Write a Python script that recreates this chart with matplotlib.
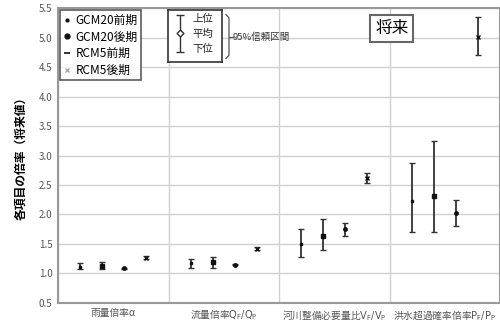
import numpy as np
import matplotlib
matplotlib.use("Agg")
from matplotlib import pyplot as plt
from matplotlib.lines import Line2D

plt.rcParams['font.family'] = ['Noto Sans CJK JP', 'DejaVu Sans']
plt.rcParams['mathtext.fontset'] = 'dejavusans'

#data
categories = ["雨量倍率α", r"流量倍率$\mathrm{Q_F/Q_P}$", r"河川整備必要量比$\mathrm{V_F/V_P}$", r"洪水超過確率倍率$\mathrm{P_F/P_P}$"]
series = ["GCM20前期", "GCM20後期", "RCM5前期", "RCM5後期"]

gcm20_early_mean = [1.11, 1.18, 1.50, 2.22]
gcm20_early_upper = [1.17, 1.25, 1.76, 2.88]
gcm20_early_lower = [1.07, 1.10, 1.28, 1.71]

gcm20_late_mean = [1.12, 1.19, 1.63, 2.32]
gcm20_late_upper = [1.19, 1.28, 1.92, 3.24]
gcm20_late_lower = [1.07, 1.10, 1.39, 1.71]

rcm5_early_mean = [1.09, 1.15, 1.75, 2.02]
rcm5_early_upper = [1.10, 1.16, 1.85, 2.25]
rcm5_early_lower = [1.08, 1.14, 1.64, 1.81]

rcm5_late_mean = [1.27, 1.42, 2.62, 5.01]
rcm5_late_upper = [1.29, 1.44, 2.70, 5.35]
rcm5_late_lower = [1.25, 1.40, 2.54, 4.70]

means = [gcm20_early_mean, gcm20_late_mean, rcm5_early_mean, rcm5_late_mean]
uppers = [gcm20_early_upper, gcm20_late_upper, rcm5_early_upper, rcm5_late_upper]
lowers = [gcm20_early_lower, gcm20_late_lower, rcm5_early_lower, rcm5_late_lower]
markers = ['s', 's', 'o', 'x']
msizes = [2, 2.5, 2.5, 3]
offsets = [0.2, 0.4, 0.6, 0.8]

fig = plt.figure(figsize=(5, 3.25), dpi=100)
ax = fig.add_axes([0.116, 0.068, 0.884, 0.907])

dark = '#333333'
base = np.arange(len(categories))
for k in range(len(series)):
	m = np.array(means[k])
	err = [m - np.array(lowers[k]), np.array(uppers[k]) - m]
	ax.errorbar(base + offsets[k], m, yerr=err, fmt=markers[k], ms=msizes[k],
		color='#111111', ecolor=dark, elinewidth=1.3, capsize=2, capthick=1, mew=1)

ax.set_xlim(0, 4)
ax.set_ylim(0.5, 5.5)
ax.set_yticks(np.arange(0.5, 5.51, 0.5))
ax.set_xticks(base + 0.5)
ax.set_xticklabels(categories)
ax.set_xticks(np.arange(0, 5), minor=True)
ax.grid(axis='y', color='#d0d0d0', lw=1)
ax.grid(axis='x', which='minor', color='#d0d0d0', lw=1)
ax.tick_params(which='both', length=0, labelsize=7, labelcolor='#555555', pad=4)
ax.set_ylabel("各項目の倍率（将来値）", fontsize=8.5, fontweight='bold', labelpad=8)
for s in ['left', 'top', 'bottom', 'right']:
	ax.spines[s].set_color('#999999')
	ax.spines[s].set_linewidth(1.5)

#legend for the four runs
handles = [
	Line2D([], [], ls='none', marker='.', ms=4, color='#111111'),
	Line2D([], [], ls='none', marker='o', ms=3.5, color='#111111'),
	Line2D([], [], ls='none', marker='_', ms=5, mew=1.2, color='#111111'),
	Line2D([], [], ls='none', marker='x', ms=3.5, color='#aaaaaa'),
]
leg = ax.legend(handles, series, loc='upper left', fontsize=8.5, frameon=True, fancybox=False,
	edgecolor=dark, borderaxespad=0.2, handlelength=0.6, handletextpad=0.4,
	labelspacing=0.3, borderpad=0.3)
leg.get_frame().set_linewidth(1.2)

#key for the interval symbol
kax = fig.add_axes([0.336, 0.809, 0.108, 0.16])
kax.set_xlim(0, 1)
kax.set_ylim(0, 1)
kax.set_xticks([])
kax.set_yticks([])
for s in kax.spines.values():
	s.set_color(dark)
	s.set_linewidth(1.2)
kax.errorbar([0.22], [0.55], yerr=[[0.35], [0.35]], fmt='D', ms=3.5, mfc='white', mec=dark,
	ecolor=dark, elinewidth=1, capsize=3)
for txt, yy in zip(["上位", "平均", "下位"], [0.82, 0.55, 0.25]):
	kax.text(0.64, yy, txt, fontsize=7.5, ha='center', va='center', color='#222222')

#brace and label
bx0, bx1, by0, by1, bym = 0.452, 0.458, 0.82, 0.955, 0.885
fig.add_artist(Line2D([bx0, bx1, bx1, bx0], [by1, by1 - 0.01, by0 + 0.01, by0], color='#555555', lw=0.9))
fig.add_artist(Line2D([bx1, bx1 + 0.008], [bym, bym], color='#555555', lw=0.9))
fig.text(bx1 + 0.008, bym, "95%信頼区間", fontsize=6.8, va='center', ha='left', color='#333333')

#title box
ax.text(0.755, 0.93, "将来", transform=ax.transAxes, fontsize=12, ha='center', va='center',
	bbox=dict(boxstyle='square,pad=0.3', fc='white', ec='#666666', lw=1.5))

plt.savefig("out.png", dpi=100)
